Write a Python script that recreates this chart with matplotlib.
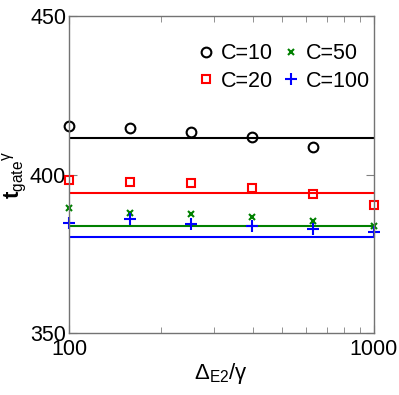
import matplotlib
matplotlib.use('Agg')
import matplotlib.pyplot as plt
from matplotlib.ticker import LogLocator, NullFormatter, FixedLocator

plt.rcParams['font.family'] = ['Liberation Sans', 'DejaVu Sans']
plt.rcParams['mathtext.fontset'] = 'custom'
plt.rcParams['mathtext.rm'] = 'Liberation Sans'
plt.rcParams['mathtext.it'] = 'Liberation Sans'
plt.rcParams['mathtext.bf'] = 'Liberation Sans:bold'

# detuning values (Delta_E2 / gamma)
delta = [100, 158, 251, 398, 631, 1000]

# simulated gate times (markers)
t_c10 = [415.3, 414.7, 413.4, 411.8, 408.7]
t_c20 = [398.3, 397.6, 397.3, 395.7, 393.8, 390.4]
t_c50 = [389.4, 387.9, 387.5, 386.6, 385.3, 383.8]
t_c100 = [384.7, 386.0, 384.4, 383.8, 382.8, 381.9]

# analytic gate times (lines)
line_c10 = 411.5
line_c20 = 394.2
line_c50 = 383.8
line_c100 = 380.3

fig = plt.figure(figsize=(3.99, 3.95), dpi=100)
ax = fig.add_axes([0.173, 0.157, 0.764, 0.802])

ax.axhline(line_c10, color='black', lw=1.5)
ax.axhline(line_c20, color='red', lw=1.5)
ax.axhline(line_c50, color='green', lw=1.5)
ax.axhline(line_c100, color='blue', lw=1.5)

ax.plot(delta[:5], t_c10, 'o', mfc='none', mec='black', ms=7, mew=1.5, label='C=10', clip_on=False)
ax.plot(delta, t_c20, 's', mfc='none', mec='red', ms=6, mew=1.5, label='C=20', clip_on=False)
ax.plot(delta, t_c50, 'x', color='green', ms=5, mew=1.5, label='C=50', clip_on=False)
ax.plot(delta, t_c100, '+', color='blue', ms=8, mew=1.5, label='C=100', clip_on=False)

ax.set_xscale('log')
ax.set_xlim(100, 1000)
ax.set_ylim(350, 450)
ax.yaxis.set_major_locator(FixedLocator([350, 400, 450]))
ax.xaxis.set_major_locator(FixedLocator([100, 1000]))
ax.xaxis.set_minor_locator(LogLocator(base=10, subs=range(2, 10)))
ax.xaxis.set_minor_formatter(NullFormatter())
ax.set_xticklabels(['100', '1000'])

ax.tick_params(which='both', direction='in', top=True, right=True, labelsize=15.5, pad=2)
ax.tick_params(axis='x', which='both', pad=4)
ax.tick_params(which='major', length=6, color='0.5')
ax.tick_params(which='minor', length=4, color='0.5')
for s in ax.spines.values():
    s.set_color('0.45')
    s.set_linewidth(1.0)

ax.set_xlabel(r'$\Delta_{\mathrm{E2}}/\gamma$', fontsize=16)
ax.xaxis.set_label_coords(0.5, -0.09)
ax.set_ylabel(r'$\mathbf{t}_{\mathrm{gate}}{}^{\gamma}$', fontsize=16)
ax.yaxis.set_label_coords(-0.13, 0.5)

ax.legend(ncol=2, frameon=False, loc='upper right', bbox_to_anchor=(1.05, 0.975), fontsize=15.5,
          handletextpad=0.2, columnspacing=0.3, labelspacing=0.3, handlelength=1.0)

fig.savefig('out.png', dpi=100)
